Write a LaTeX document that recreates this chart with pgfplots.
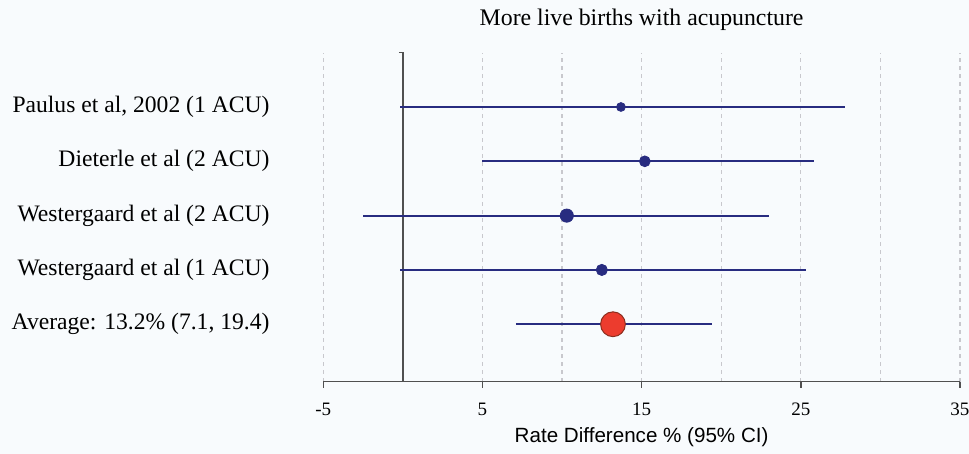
\documentclass[border=0pt]{standalone}
\usepackage{pgfplots}
\pgfplotsset{compat=1.18}
\usepackage{fontspec}
\setmainfont{Liberation Serif}
\newfontfamily\arialf{Liberation Sans}
\usetikzlibrary{backgrounds}
\definecolor{navyc}{RGB}{40,44,128}
\definecolor{redc}{RGB}{236,60,46}
\definecolor{redb}{RGB}{140,45,30}
\definecolor{gridc}{RGB}{200,200,205}
\definecolor{axc}{RGB}{80,80,80}
\definecolor{bgc}{RGB}{248,251,253}
\begin{document}
\begin{tikzpicture}[background rectangle/.style={fill=bgc,draw=none},show background rectangle,inner frame sep=0pt]
\begin{axis}[
  scale only axis,
  width=318.4pt, height=164.5pt,
  xmin=-5, xmax=35, ymin=-0.057, ymax=6,
  axis x line*=bottom, axis y line=none,
  x axis line style={axc, line width=0.7pt, -},
  xtick={-5,5,15,25,35},
  xticklabels={-5,5,15,25,35},
  minor xtick={10,20,30},
  xmajorgrids, xminorgrids,
  major grid style={gridc, line width=0.6pt, dash pattern=on 2pt off 2pt},
  minor grid style={gridc, line width=0.6pt, dash pattern=on 2pt off 2pt},
  tick align=outside,
  major tick length=3pt, minor tick length=0pt,
  major x tick style={axc, line width=0.7pt},
  xticklabel style={font=\fontsize{9.5}{11}\selectfont, text=black, yshift=-4pt},
  xlabel={Rate Difference \% (95\% CI)},
  xlabel style={font=\arialf\fontsize{10.3}{12}\selectfont, at={(axis description cs:0.5,0)}, anchor=center, yshift=-27.6pt},
  clip=false,
]
% zero line
\addplot[axc, line width=0.8pt, mark=none] coordinates {(-0.25,6) (0,6) (0,-0.057)};
% intervals
\addplot[navyc, line width=1.1pt, mark=none] coordinates {(-0.16,5) (27.8,5)};
\addplot[navyc, line width=1.1pt, mark=none] coordinates {(5.0,4) (25.8,4)};
\addplot[navyc, line width=1.1pt, mark=none] coordinates {(-2.5,3) (23.0,3)};
\addplot[navyc, line width=1.1pt, mark=none] coordinates {(-0.16,2) (25.3,2)};
\addplot[navyc, line width=1.1pt, mark=none] coordinates {(7.1,1) (19.4,1)};
% point estimates
\addplot[only marks, mark=*, mark size=2.2pt, navyc, mark options={fill=navyc, draw=navyc}] coordinates {(13.7,5)};
\addplot[only marks, mark=*, mark size=2.7pt, navyc, mark options={fill=navyc, draw=navyc}] coordinates {(15.2,4)};
\addplot[only marks, mark=*, mark size=3.3pt, navyc, mark options={fill=navyc, draw=navyc}] coordinates {(10.3,3)};
\addplot[only marks, mark=*, mark size=2.8pt, navyc, mark options={fill=navyc, draw=navyc}] coordinates {(12.5,2)};
\addplot[only marks, mark=*, mark size=6.2pt, mark options={fill=redc, draw=redb, line width=0.5pt}] coordinates {(13.2,1)};
% title
\node[font=\fontsize{11.9}{14}\selectfont, anchor=center] at ([yshift=16.35pt]rel axis cs:0.5,1) {More live births with acupuncture};
% study labels
\begin{scope}[every node/.style={anchor=east, inner sep=0pt, font=\fontsize{11.8}{14}\selectfont}]
\node at ([xshift=-26.7pt]axis cs:-5,5) {Paulus et al, 2002 (1 ACU)};
\node at ([xshift=-26.7pt]axis cs:-5,4) {Dieterle et al (2 ACU)};
\node at ([xshift=-26.7pt]axis cs:-5,3) {Westergaard et al (2 ACU)};
\node at ([xshift=-26.7pt]axis cs:-5,2) {Westergaard et al (1 ACU)};
\node at ([xshift=-26.7pt]axis cs:-5,1) {Average: 13.2\% (7.1, 19.4)};
\end{scope}
\coordinate (bl) at (rel axis cs:0,0);
\coordinate (tr) at (rel axis cs:1,1);
\end{axis}
\pgfresetboundingbox
\path ([shift={(-161.65pt,-36.15pt)}]bl) rectangle ([shift={(4.5pt,26.35pt)}]tr);
\end{tikzpicture}
\end{document}
